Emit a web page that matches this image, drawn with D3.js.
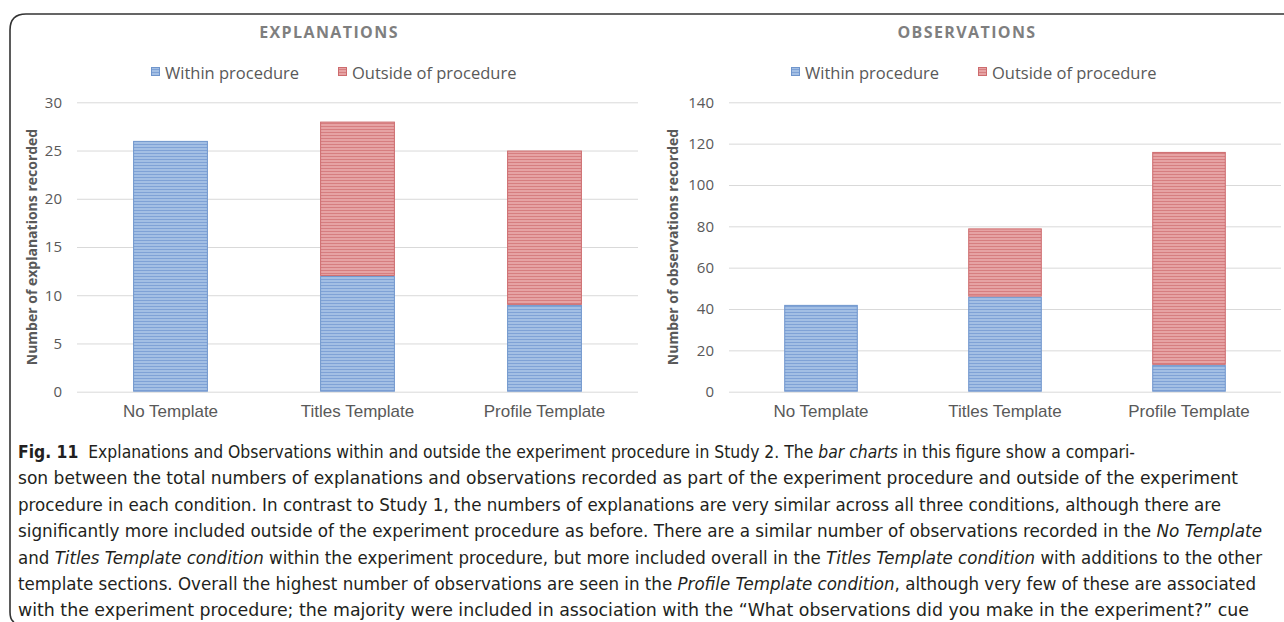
<!DOCTYPE html>
<html>
<head>
<meta charset="utf-8">
<script src="https://cdnjs.cloudflare.com/ajax/libs/d3/7.8.5/d3.min.js"></script>
<style>
  body { margin: 0; background: #fff; }
  svg { display: block; font-family: "Open Sans", sans-serif; }
  .tick text { fill: #595959; font-size: 15px; }
  .grid line { stroke: #d9d9d9; }
  .cat text { fill: #595959; font-size: 17px; }
</style>
</head>
<body>
<svg id="chart" width="1284" height="622"></svg>
<script>
// data
const categories = ["No Template", "Titles Template", "Profile Template"];
const seriesNames = ["Within procedure", "Outside of procedure"];
const explWithin = [26, 12, 9];
const explOutside = [0, 16, 16];
const obsWithin = [42, 46, 13];
const obsOutside = [0, 33, 103];
const explTicks = [0, 5, 10, 15, 20, 25, 30];
const obsTicks = [0, 20, 40, 60, 80, 100, 120, 140];

const svg = d3.select("#chart");

// striped fills like the Excel texture
const defs = svg.append("defs");
const fills = [
  {id: "blue", base: "#a3bfe4", line: "#7fa2d6"},
  {id: "red", base: "#e6a3a4", line: "#d67e80"}
];
fills.forEach(f => {
  const p = defs.append("pattern")
      .attr("id", "pat-" + f.id)
      .attr("patternUnits", "userSpaceOnUse")
      .attr("width", 4).attr("height", 3);
  p.append("rect").attr("width", 4).attr("height", 3).attr("fill", f.base);
  p.append("rect").attr("width", 4).attr("height", 1).attr("fill", f.line);
});
const strokes = ["#6f95cc", "#cd6b6d"];

// frame
svg.append("path")
    .attr("d", "M1284,14 H26 Q10,14 10,30 V612 Q10,620 14,622")
    .attr("fill", "none")
    .attr("stroke", "#333")
    .attr("stroke-width", 1.6);

const drawChart = (cfg) => {
  const g = svg.append("g");

  const x = d3.scaleBand()
      .domain(categories)
      .range([cfg.left, cfg.right])
      .paddingInner(0.6)
      .paddingOuter(0.3);

  const y = d3.scaleLinear()
      .domain([0, d3.max(cfg.ticks)])
      .range([391.7, 102.3]);

  // gridlines + tick labels
  const ax = g.append("g")
      .attr("class", "grid")
      .attr("transform", "translate(" + cfg.left + ",0)")
      .call(d3.axisLeft(y).tickValues(cfg.ticks).tickSize(-(cfg.right - cfg.left)).tickPadding(15));
  ax.select(".domain").remove();
  ax.selectAll(".tick line").attr("stroke", d => d === 0 ? "#bfbfbf" : "#d9d9d9");
  ax.selectAll(".tick text").attr("font-family", "Open Sans");

  // stacked bars
  const rows = categories.map((c, i) => ({cat: c, within: cfg.within[i], outside: cfg.outside[i]}));
  const stack = d3.stack().keys(["within", "outside"])(rows);

  g.selectAll(".layer")
    .data(stack)
    .enter().append("g")
      .attr("class", "layer")
      .attr("fill", (d, i) => "url(#pat-" + fills[i].id + ")")
      .attr("stroke", (d, i) => strokes[i])
    .selectAll("rect")
    .data(d => d.filter(s => s[1] > s[0]))
    .enter().append("rect")
      .attr("x", d => x(d.data.cat) + 0.5)
      .attr("width", x.bandwidth() - 1)
      .attr("y", d => y(d[1]) + 0.5)
      .attr("height", d => y(d[0]) - y(d[1]) - 1)
      .attr("stroke-width", 1);

  // category labels
  const cx = g.append("g")
      .attr("class", "cat")
      .attr("transform", "translate(0,391.7)")
      .call(d3.axisBottom(x).tickSize(0).tickPadding(13));
  cx.select(".domain").remove();

  // chart title
  g.append("text")
      .attr("x", cfg.titleX)
      .attr("y", 38)
      .attr("text-anchor", "middle")
      .attr("fill", "#7f7f7f")
      .attr("font-size", 16)
      .attr("font-weight", "bold")
      .attr("letter-spacing", 1.4)
      .text(cfg.title);

  // legend
  const legend = g.selectAll(".legend")
      .data(seriesNames)
    .enter().append("g")
      .attr("class", "legend")
      .attr("transform", (d, i) => "translate(" + (cfg.legendX + i * 187) + ",0)");

  legend.append("rect")
      .attr("x", 0.5)
      .attr("y", 67.5)
      .attr("width", 8)
      .attr("height", 8)
      .attr("fill", (d, i) => "url(#pat-" + fills[i].id + ")")
      .attr("stroke", (d, i) => strokes[i]);

  legend.append("text")
      .attr("x", 14)
      .attr("y", 78.5)
      .attr("fill", "#595959")
      .attr("font-size", 16.5)
      .text(d => d);

  // y axis title
  g.append("text")
      .attr("transform", "rotate(-90)")
      .attr("x", -247)
      .attr("y", cfg.axisTitleX)
      .attr("text-anchor", "middle")
      .attr("fill", "#595959")
      .attr("font-size", 14)
      .attr("font-weight", "bold")
      .text(cfg.yTitle);
};

drawChart({
  left: 77, right: 638, ticks: explTicks,
  within: explWithin, outside: explOutside,
  title: "EXPLANATIONS", titleX: 329,
  legendX: 151, axisTitleX: 37,
  yTitle: "Number of explanations recorded"
});

drawChart({
  left: 729, right: 1281, ticks: obsTicks,
  within: obsWithin, outside: obsOutside,
  title: "OBSERVATIONS", titleX: 967,
  legendX: 791, axisTitleX: 678,
  yTitle: "Number of observations recorded"
});

// caption, one text per printed line
const captionLines = [
  {end: 1135, parts: [["Fig. 11", "b"], ["  Explanations and Observations within and outside the experiment procedure in Study 2. The "], ["bar charts", "i"], [" in this figure show a compari-"]]},
  {end: 1238, parts: [["son between the total numbers of explanations and observations recorded as part of the experiment procedure and outside of the experiment"]]},
  {end: 1221, parts: [["procedure in each condition. In contrast to Study 1, the numbers of explanations are very similar across all three conditions, although there are"]]},
  {end: 1262, parts: [["significantly more included outside of the experiment procedure as before. There are a similar number of observations recorded in the "], ["No Template", "i"]]},
  {end: 1262, parts: [["and "], ["Titles Template condition", "i"], [" within the experiment procedure, but more included overall in the "], ["Titles Template condition", "i"], [" with additions to the other"]]},
  {end: 1256, parts: [["template sections. Overall the highest number of observations are seen in the "], ["Profile Template condition", "i"], [", although very few of these are associated"]]},
  {end: 1249, parts: [["with the experiment procedure; the majority were included in association with the \u201cWhat observations did you make in the experiment?\u201d cue"]]}
];

const capX = 18;
const cap = svg.selectAll(".cap")
    .data(captionLines)
  .enter().append("text")
    .attr("class", "cap")
    .attr("x", capX)
    .attr("y", (d, i) => 458 + i * 26.4)
    .attr("textLength", d => d.end - capX)
    .attr("lengthAdjust", "spacingAndGlyphs")
    .attr("font-family", "'Liberation Sans Narrow', 'DejaVu Sans Condensed', sans-serif")
    .attr("font-size", 17)
    .attr("fill", "#231f20")
    .attr("xml:space", "preserve");

cap.selectAll("tspan")
    .data(d => d.parts)
  .enter().append("tspan")
    .attr("font-weight", d => d[1] === "b" ? "bold" : null)
    .attr("font-style", d => d[1] === "i" ? "italic" : null)
    .text(d => d[0]);
</script>
</body>
</html>
